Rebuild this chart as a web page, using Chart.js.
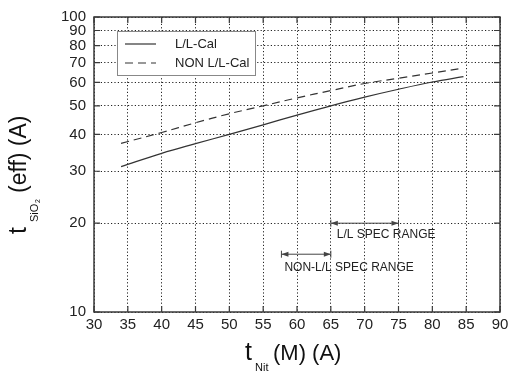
<!DOCTYPE html>
<html>
<head>
<meta charset="utf-8">
<script src="https://cdn.jsdelivr.net/npm/chart.js@4.4.1/dist/chart.umd.min.js"></script>
<style>
  html, body { margin: 0; padding: 0; background: #fff; }
</style>
</head>
<body>
<canvas id="chart" width="518" height="376"></canvas>
<script>
// --- data ---
const llCalNit = [34, 40, 45, 50, 55, 60, 65, 70, 75, 80, 84.6];
const llCalSio2 = [31.1, 34.5, 37.2, 40, 43.1, 46.5, 50, 53.5, 56.9, 60.2, 62.8];
const nonLlCalNit = [34, 40, 45, 50, 55, 60, 65, 70, 75, 80, 84.6];
const nonLlCalSio2 = [37.3, 40.6, 43.8, 47, 50, 53.2, 56.3, 59.5, 62, 64.6, 67.1];

const nitTicks = [30, 35, 40, 45, 50, 55, 60, 65, 70, 75, 80, 85, 90];
const sio2Ticks = [10, 20, 30, 40, 50, 60, 70, 80, 90, 100];

// spec ranges: [from, to] on the x axis, and the level they sit at
const llSpecRange = [65, 75];
const llSpecLevel = 20;
const nonLlSpecRange = [57.7, 65];
const nonLlSpecLevel = 15.7;

const FONT = "'Liberation Sans', Arial, sans-serif";
const INK = '#333';

const toPoints = (xs, ys) => xs.map((x, i) => ({ x: x, y: ys[i] }));

// range arrow with bars and heads at both ends
function drawRange(ctx, x1, x2, yp) {
    ctx.beginPath();
    ctx.moveTo(x1, yp); ctx.lineTo(x2, yp);
    ctx.moveTo(x1, yp - 3.5); ctx.lineTo(x1, yp + 3.5);
    ctx.moveTo(x2, yp - 3.5); ctx.lineTo(x2, yp + 3.5);
    ctx.stroke();
    ctx.beginPath();
    ctx.moveTo(x1, yp); ctx.lineTo(x1 + 7, yp - 2.5); ctx.lineTo(x1 + 7, yp + 2.5); ctx.closePath();
    ctx.moveTo(x2, yp); ctx.lineTo(x2 - 7, yp - 2.5); ctx.lineTo(x2 - 7, yp + 2.5); ctx.closePath();
    ctx.fill();
}

const paperStyle = {
    id: 'paperStyle',
    afterDatasetsDraw(chart) {
        const { ctx, scales: { x, y } } = chart;
        ctx.save();

        // spec range annotations
        ctx.strokeStyle = '#444';
        ctx.fillStyle = '#444';
        ctx.lineWidth = 1;
        const llY = y.getPixelForValue(llSpecLevel);
        const llX1 = x.getPixelForValue(llSpecRange[0]);
        drawRange(ctx, llX1, x.getPixelForValue(llSpecRange[1]), llY);
        const nonY = y.getPixelForValue(nonLlSpecLevel);
        const nonX1 = x.getPixelForValue(nonLlSpecRange[0]);
        drawRange(ctx, nonX1, x.getPixelForValue(nonLlSpecRange[1]), nonY);

        ctx.fillStyle = '#222';
        ctx.font = '12px ' + FONT;
        ctx.textBaseline = 'middle';
        ctx.textAlign = 'left';
        ctx.fillText('L/L SPEC RANGE', llX1 + 6, llY + 11);
        ctx.fillText('NON-L/L SPEC RANGE', nonX1 + 3, nonY + 13);

        // legend box
        ctx.fillStyle = '#fff';
        ctx.fillRect(117, 31, 138, 44);
        ctx.strokeStyle = '#888';
        ctx.strokeRect(117.5, 31.5, 138, 44);
        chart.data.datasets.forEach((ds, i) => {
            const ly = 44 + i * 19;
            ctx.strokeStyle = ds.borderColor;
            ctx.lineWidth = ds.borderWidth;
            ctx.setLineDash(ds.borderDash || []);
            ctx.beginPath();
            ctx.moveTo(125, ly); ctx.lineTo(156, ly);
            ctx.stroke();
            ctx.setLineDash([]);
            ctx.fillStyle = '#222';
            ctx.font = '13px ' + FONT;
            ctx.fillText(ds.label, 175, ly);
        });
        ctx.restore();
    },
    afterDraw(chart) {
        const { ctx, chartArea: a, scales: { x, y } } = chart;
        ctx.save();
        // frame and inward ticks
        ctx.strokeStyle = '#3a3a3a';
        ctx.lineWidth = 1.5;
        ctx.strokeRect(a.left, a.top, a.right - a.left, a.bottom - a.top);
        ctx.lineWidth = 1.2;
        ctx.beginPath();
        nitTicks.forEach(v => {
            const px = x.getPixelForValue(v);
            ctx.moveTo(px, a.bottom); ctx.lineTo(px, a.bottom - 6);
            ctx.moveTo(px, a.top); ctx.lineTo(px, a.top + 6);
        });
        sio2Ticks.forEach(v => {
            const py = y.getPixelForValue(v);
            ctx.moveTo(a.left, py); ctx.lineTo(a.left + 6, py);
            ctx.moveTo(a.right, py); ctx.lineTo(a.right - 6, py);
        });
        ctx.stroke();

        // axis titles with subscripts
        ctx.fillStyle = '#111';
        ctx.textAlign = 'left';
        ctx.textBaseline = 'alphabetic';
        ctx.font = '25px ' + FONT;
        ctx.fillText('t', 245, 360);
        ctx.font = '11px ' + FONT;
        ctx.fillText('Nit', 255, 371);
        ctx.font = '22px ' + FONT;
        ctx.fillText('(M) (A)', 273, 360);

        ctx.translate(26, 235);
        ctx.rotate(-Math.PI / 2);
        ctx.font = '25px ' + FONT;
        ctx.fillText('t', 1, 0);
        ctx.font = '11px ' + FONT;
        ctx.fillText('SiO', 13, 12);
        ctx.font = '7px ' + FONT;
        ctx.fillText('2', 32, 14);
        ctx.font = '23px ' + FONT;
        ctx.fillText('(eff) (A)', 42, 0);
        ctx.restore();
    }
};

const lineStyle = { borderColor: INK, borderWidth: 1.2, pointRadius: 0, fill: false, tension: 0.4 };

new Chart(document.getElementById('chart'), {
    type: 'line',
    data: {
        datasets: [
            Object.assign({ label: 'L/L-Cal', data: toPoints(llCalNit, llCalSio2) }, lineStyle),
            Object.assign({ label: 'NON L/L-Cal', data: toPoints(nonLlCalNit, nonLlCalSio2), borderDash: [8, 5] }, lineStyle)
        ]
    },
    options: {
        responsive: false,
        animation: false,
        devicePixelRatio: 1,
        layout: { padding: { left: 0, right: 18, top: 14, bottom: 0 } },
        plugins: { legend: { display: false }, tooltip: { enabled: false } },
        scales: {
            x: {
                type: 'linear', min: 30, max: 90,
                afterBuildTicks: s => { s.ticks = nitTicks.map(v => ({ value: v })); },
                afterFit: s => { s.height = 64; },
                grid: { color: '#222', lineWidth: 1, drawTicks: false },
                border: { display: false, dash: [1.2, 2.2] },
                ticks: { padding: 4, color: '#222', font: { family: FONT, size: 15 }, autoSkip: false, maxRotation: 0 }
            },
            y: {
                type: 'logarithmic', min: 10, max: 100,
                afterBuildTicks: s => { s.ticks = sio2Ticks.map(v => ({ value: v })); },
                afterFit: s => { s.width = 94; },
                grid: { color: '#222', lineWidth: 1, drawTicks: false },
                border: { display: false, dash: [1.2, 2.2] },
                ticks: { padding: 8, color: '#222', font: { family: FONT, size: 15 }, autoSkip: false, callback: v => String(v) }
            }
        }
    },
    plugins: [paperStyle]
});
</script>
</body>
</html>
